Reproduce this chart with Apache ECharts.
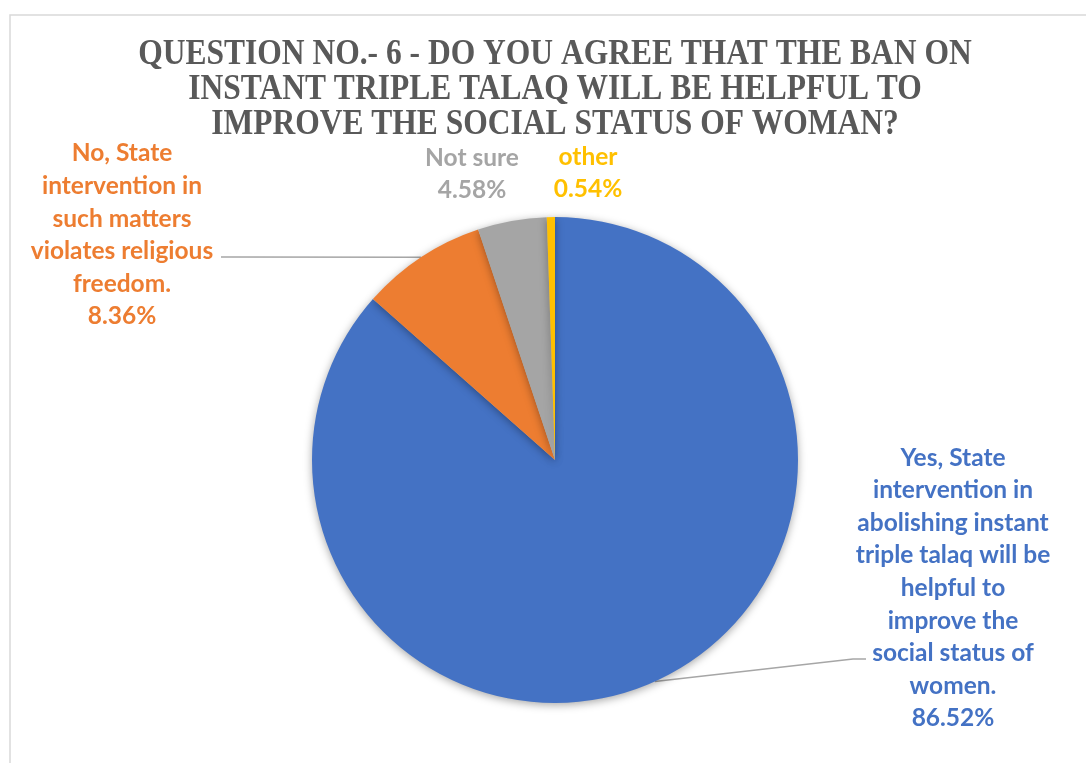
<!DOCTYPE html>
<html>
<head>
<meta charset="utf-8">
<script src="https://cdn.jsdelivr.net/npm/echarts@6/dist/echarts.min.js"></script>
<style>
  html, body { margin: 0; padding: 0; background: #fff; }
  #chart { width: 1086px; height: 763px; }
</style>
</head>
<body>
<div id="chart"></div>
<script>
// Survey answers (labels are wrapped the way they are printed)
const categories = [
  'Yes, State\nintervention in\nabolishing instant\ntriple talaq will be\nhelpful to\nimprove the\nsocial status of\nwomen.',
  'No, State\nintervention in\nsuch matters\nviolates religious\nfreedom.',
  'Not sure',
  'other'
];
const shares = [86.52, 8.36, 4.58, 0.54];
const colors = ['#4472C4', '#ED7D31', '#A5A5A5', '#FFC000'];
const titleLines = [
  'QUESTION NO.- 6 - DO YOU AGREE THAT THE BAN ON',
  'INSTANT TRIPLE TALAQ WILL BE HELPFUL TO',
  'IMPROVE THE SOCIAL STATUS OF WOMAN?'
];

// Where each label block sits and where its leader line bends
const labelSpots = [
  { x: 953, y: 588, line: [[853, 659], [866, 659]] },
  { x: 122, y: 235, line: [[232, 257], [221, 257]] },
  { x: 472, y: 174, line: null },
  { x: 588, y: 173, line: null }
];

const chart = echarts.init(document.getElementById('chart'), null, { renderer: 'canvas' });

const data = categories.map((name, i) => ({
  name: name,
  value: shares[i],
  itemStyle: { color: colors[i] },
  label: { color: colors[i] },
  labelLine: { show: !!labelSpots[i].line }
}));

chart.setOption({
  animation: false,
  backgroundColor: '#ffffff',
  graphic: [
    {
      type: 'rect',
      shape: { x: 10, y: 15, width: 1100, height: 800 },
      style: { fill: 'none', stroke: '#d9d9d9', lineWidth: 1.5 },
      silent: true,
      z: -10
    },
    {
      type: 'text',
      x: 555,
      y: 37,
      scaleX: 0.9,
      style: {
        text: titleLines.join('\n'),
        font: 'bold 35px "Liberation Serif", "Times New Roman", serif',
        fill: '#595959',
        align: 'center',
        verticalAlign: 'top',
        lineHeight: 35
      }
    }
  ],
  series: [{
    type: 'pie',
    center: [555, 460],
    radius: 243,
    startAngle: 90,
    clockwise: true,
    data: data,
    itemStyle: {
      shadowBlur: 8,
      shadowOffsetY: 2,
      shadowColor: 'rgba(0,0,0,0.35)'
    },
    label: {
      show: true,
      formatter: p => p.name + '\n' + p.value.toFixed(2) + '%',
      fontFamily: 'Lato, "Noto Sans", sans-serif',
      fontWeight: 'bold',
      fontSize: 24.5,
      lineHeight: 32.6,
      align: 'center'
    },
    labelLine: {
      show: true,
      lineStyle: { color: '#a6a6a6', width: 1.5 }
    },
    labelLayout: function (params) {
      const spot = labelSpots[params.dataIndex];
      const out = { x: spot.x, y: spot.y, align: 'center', verticalAlign: 'middle' };
      if (spot.line && params.labelLinePoints) {
        out.labelLinePoints = [params.labelLinePoints[0]].concat(spot.line);
      }
      return out;
    }
  }]
});
</script>
</body>
</html>
